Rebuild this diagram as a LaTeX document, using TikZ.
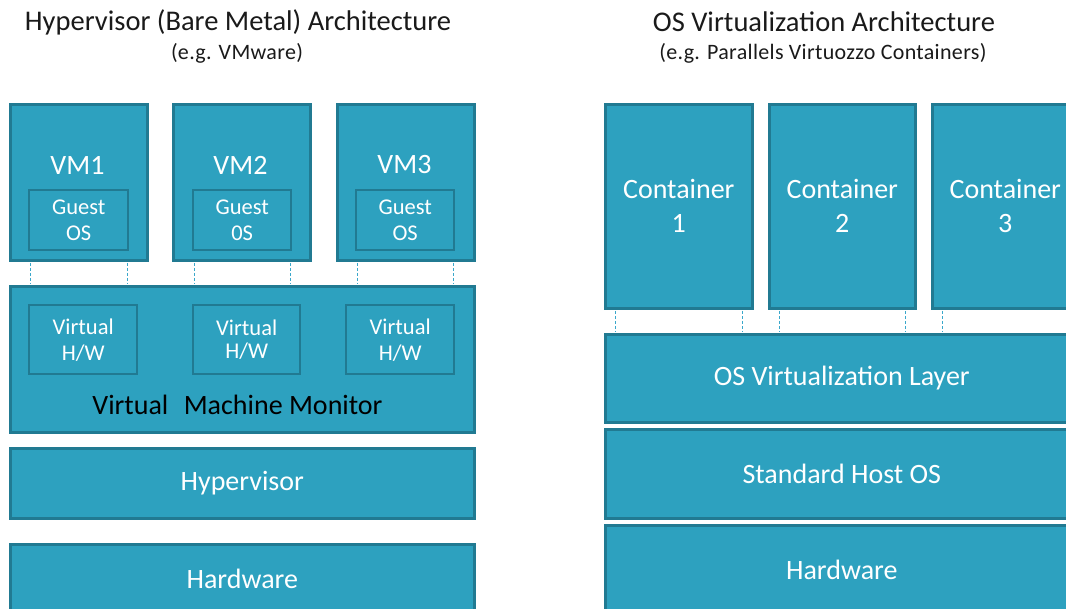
\documentclass[tikz,border=0pt]{standalone}
\usepackage{fontspec}
\setmainfont{Carlito}
\usetikzlibrary{calc}
\definecolor{layerfill}{HTML}{2DA1BF}
\definecolor{layeredge}{HTML}{217A92}
\definecolor{linkblue}{HTML}{3AA8CB}
\definecolor{titlegray}{HTML}{1A1A1A}
\tikzset{
  layer/.style={draw=layeredge, fill=layerfill, line width=2.6pt, anchor=north west,
    inner sep=0pt, text=white, align=center},
  inner/.style={draw=layeredge, fill=layerfill, line width=2.4pt, anchor=north west,
    inner sep=0pt, text=white, align=center, font=\fontsize{22.5}{26}\selectfont},
  big/.style={font=\fontsize{28}{34}\selectfont},
  label/.style={text=white, align=center, font=\fontsize{28}{34}\selectfont},
  link/.style={draw=linkblue, line width=0.9pt, dash pattern=on 3pt off 2pt},
  title/.style={text=titlegray, font=\fontsize{28.5}{34}\selectfont},
  subtitle/.style={text=titlegray, font=\fontsize{22}{26}\selectfont\addfontfeature{LetterSpace=1.5}},
}
\begin{document}
\begin{tikzpicture}[x=1pt, y=-1pt]
\clip (0,0) rectangle (1066,608);
\fill[white] (0,0) rectangle (1066,608);

% ---------- Hypervisor (bare metal) stack ----------
\node[title] (t1) at (238,22) {Hypervisor (Bare Metal) Architecture};
\node[subtitle] (s1) at (237,53) {(e.g. VMware)};

\node[layer, minimum width=137pt, minimum height=156pt] (vm1) at (9,103) {};
\node[layer, minimum width=137pt, minimum height=156pt] (vm2) at (172,103) {};
\node[layer, minimum width=137pt, minimum height=156pt] (vm3) at (336,103) {};
\node[label] (vm1t) at (77.5,165) {VM1};
\node[label] (vm2t) at (240.5,165) {VM2};
\node[label] (vm3t) at (404.5,165) {VM3};
\node[inner, minimum width=99pt, minimum height=60pt] (g1) at (28,189) {Guest\\OS};
\node[inner, minimum width=98pt, minimum height=60pt] (g2) at (192,189) {Guest\\0S};
\node[inner, minimum width=98pt, minimum height=60pt] (g3) at (355,189) {Guest\\OS};

\node[layer, minimum width=464pt, minimum height=146pt] (vmm) at (9,285) {};
\node[inner, minimum width=108pt, minimum height=69pt] (h1) at (28,304) {Virtual\\H/W};
\node[inner, minimum width=107pt, minimum height=69pt] (h2) at (192,304) {\raisebox{-3pt}{\shortstack{Virtual\\[4pt]H/W}}};
\node[inner, minimum width=108pt, minimum height=69pt] (h3) at (345,304) {Virtual\\H/W};
\node[big, text=black] (vmmt) at (237.5,405) {Virtual\hspace{0.55em}Machine Monitor};

\node[layer, big, minimum width=464pt, minimum height=70pt] (hyp) at (9,447) {Hypervisor};
\node[layer, big, minimum width=464pt, minimum height=70pt] (hw1) at (9,543) {Hardware};

\foreach \g/\v in {g1/vm1, g2/vm2, g3/vm3} {
  \draw[link] ($(\v.south -| \g.west)+(2,1.3)$) -- ($(vmm.north -| \g.west)+(2,-1.3)$);
  \draw[link] ($(\v.south -| \g.east)+(-2,1.3)$) -- ($(vmm.north -| \g.east)+(-2,-1.3)$);
}

% ---------- OS virtualization stack ----------
\node[title] (t2) at (824,22) {OS Virtualization Architecture};
\node[subtitle] (s2) at (823,53) {(e.g. Parallels Virtuozzo Containers)};

\node[layer, label, minimum width=147pt, minimum height=204pt] (c1) at (604,103) {Container\\1};
\node[layer, label, minimum width=146pt, minimum height=204pt] (c2) at (768,103) {Container\\2};
\node[layer, label, minimum width=146pt, minimum height=204pt] (c3) at (931,103) {Container\\3};

\node[layer, big, minimum width=473pt, minimum height=88pt] (osv) at (604,333) {OS Virtualization Layer};
\node[layer, big, minimum width=473pt, minimum height=89pt] (host) at (604,428) {Standard Host OS};
\node[layer, big, minimum width=473pt, minimum height=89pt] (hw2) at (604,524) {Hardware};

\foreach \c in {c1, c2, c3} {
  \draw[link] ($(\c.south west)+(11,1.3)$) -- ($(osv.north -| \c.west)+(11,-1.3)$);
  \draw[link] ($(\c.south east)+(-11,1.3)$) -- ($(osv.north -| \c.east)+(-11,-1.3)$);
}
\end{tikzpicture}
\end{document}
